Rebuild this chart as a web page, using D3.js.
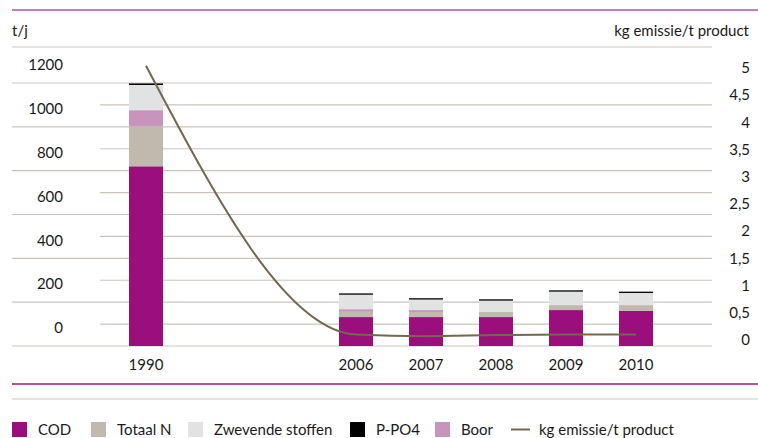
<!DOCTYPE html>
<html>
<head>
<meta charset="utf-8">
<script src="https://cdn.jsdelivr.net/npm/d3@7"></script>
<style>
  body { margin: 0; background: #fff; }
  text { font-family: Lato, "Open Sans", sans-serif; fill: #1a1a1a; }
</style>
</head>
<body>
<svg width="758" height="438"></svg>
<script>
// slots on the x axis, two empty ones for the gap between 1990 and 2006
var slots = ["1990", "gap1", "gap2", "2006", "2007", "2008", "2009", "2010"];
var years = ["1990", "2006", "2007", "2008", "2009", "2010"];

// t/j, stacked bottom to top
var cod       = [820, 132, 132, 132, 164, 160];
var totaalN   = [184, 24, 23, 23, 21, 26];
var boor      = [72, 12, 9, 0, 3, 2];
var zwevende  = [115, 66, 48, 52, 60, 54];
var ppo4      = [7, 6, 6, 6, 6, 6];

// kg emissie/t product
var emissie = [5.04, 0.10, 0.07, 0.09, 0.10, 0.10];

var leftTicks = [0, 200, 400, 600, 800, 1000, 1200];
var rightTicks = [0, 0.5, 1, 1.5, 2, 2.5, 3, 3.5, 4, 4.5, 5];

var keys = ["COD", "Totaal N", "Boor", "Zwevende stoffen", "P-PO4"];
var colors = {
  "COD": "#9b0f7d",
  "Totaal N": "#c1b8ae",
  "Zwevende stoffen": "#e1e3e2",
  "P-PO4": "#000000",
  "Boor": "#c893bd"
};
var legendOrder = ["COD", "Totaal N", "Zwevende stoffen", "P-PO4", "Boor"];

var svg = d3.select("svg");

var x = d3.scalePoint().domain(slots).range([146, 636]);
var y = d3.scaleLinear().domain([0, 1200]).range([346, 83]);
var y2 = d3.scaleLinear().domain([0, 5]).range([340, 68]);
var barW = 34;

var gridColor = "#cbc4bb";

// top and bottom rules
svg.append("line").attr("x1", 12).attr("x2", 758).attr("y1", 10).attr("y2", 10)
  .attr("stroke", "#b8519f").attr("stroke-width", 1.5);
svg.append("line").attr("x1", 12).attr("x2", 712).attr("y1", 47).attr("y2", 47)
  .attr("stroke", gridColor).attr("stroke-width", 1.2);
svg.append("line").attr("x1", 12).attr("x2", 758).attr("y1", 384).attr("y2", 384)
  .attr("stroke", "#b8519f").attr("stroke-width", 2);
svg.append("line").attr("x1", 12).attr("x2", 758).attr("y1", 399).attr("y2", 399)
  .attr("stroke", gridColor).attr("stroke-width", 1.2);

// gridlines every 100 t/j; labelled ones run under the labels
svg.append("g").selectAll("line")
  .data(d3.range(0, 1201, 100))
  .enter().append("line")
  .attr("x1", function(d) { return d % 200 === 0 ? 12 : 100; })
  .attr("x2", 712)
  .attr("y1", function(d) { return y(d); })
  .attr("y2", function(d) { return y(d); })
  .attr("stroke", gridColor)
  .attr("stroke-width", 1.2);

// axis titles
svg.append("text").attr("x", 12).attr("y", 31).attr("dy", "0.35em")
  .style("font-size", "15px").text("t/j");
svg.append("text").attr("x", 749).attr("y", 31).attr("dy", "0.35em")
  .attr("text-anchor", "end").style("font-size", "15px").text("kg emissie/t product");

// left tick labels sit above their gridline
svg.append("g").selectAll("text")
  .data(leftTicks)
  .enter().append("text")
  .attr("x", 63)
  .attr("y", function(d) { return y(d) - 18; })
  .attr("dy", "0.35em")
  .attr("text-anchor", "end")
  .style("font-size", "15px")
  .text(function(d) { return d; });

// right tick labels
svg.append("g").selectAll("text")
  .data(rightTicks)
  .enter().append("text")
  .attr("x", 750)
  .attr("y", function(d) { return y2(d); })
  .attr("dy", "0.35em")
  .attr("text-anchor", "end")
  .style("font-size", "15px")
  .text(function(d) { return String(d).replace(".", ","); });

// stacked bars
var table = years.map(function(yr, i) {
  return {
    year: yr,
    "COD": cod[i],
    "Totaal N": totaalN[i],
    "Boor": boor[i],
    "Zwevende stoffen": zwevende[i],
    "P-PO4": ppo4[i]
  };
});

var stack = d3.stack().keys(keys);

var layer = svg.append("g").selectAll(".layer")
  .data(stack(table))
  .enter().append("g")
  .attr("class", "layer")
  .attr("fill", function(d) { return colors[d.key]; });

layer.selectAll("rect")
  .data(function(d) { return d; })
  .enter().append("rect")
  .attr("x", function(d) { return x(d.data.year) - barW / 2; })
  .attr("width", barW)
  .attr("y", function(d) { return y(d[1]); })
  .attr("height", function(d) { return y(d[0]) - y(d[1]); });

// year labels
svg.append("g").selectAll("text")
  .data(years)
  .enter().append("text")
  .attr("x", function(d) { return x(d); })
  .attr("y", 365)
  .attr("dy", "0.35em")
  .attr("text-anchor", "middle")
  .style("font-size", "15px")
  .text(function(d) { return d; });

// emission line
var line = d3.line()
  .x(function(d, i) { return x(years[i]); })
  .y(function(d) { return y2(d); })
  .curve(d3.curveMonotoneX);

svg.append("path")
  .datum(emissie)
  .attr("fill", "none")
  .attr("stroke", "#736750")
  .attr("stroke-width", 2)
  .attr("d", line);

// legend
var legendX = [12, 91, 188, 350, 435];
var lg = svg.append("g");
legendOrder.forEach(function(k, i) {
  lg.append("rect").attr("x", legendX[i]).attr("y", 422).attr("width", 15).attr("height", 15)
    .attr("fill", colors[k]);
  lg.append("text").attr("x", legendX[i] + 26).attr("y", 429.5).attr("dy", "0.35em")
    .style("font-size", "15px").text(k);
});
lg.append("line").attr("x1", 511).attr("x2", 530).attr("y1", 429.5).attr("y2", 429.5)
  .attr("stroke", "#736750").attr("stroke-width", 2);
lg.append("text").attr("x", 539).attr("y", 429.5).attr("dy", "0.35em")
  .style("font-size", "15px").text("kg emissie/t product");
</script>
</body>
</html>
